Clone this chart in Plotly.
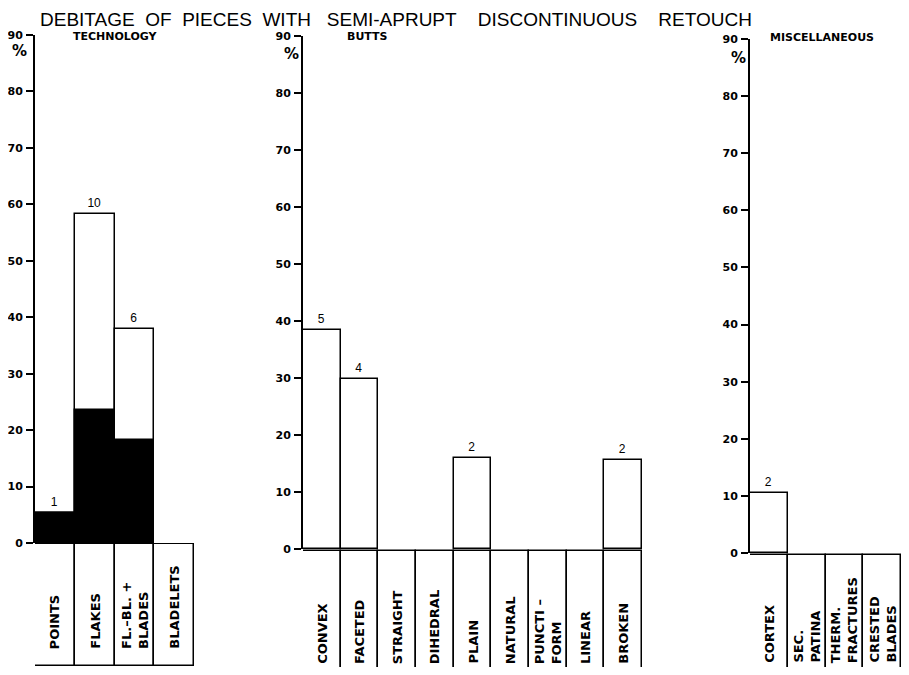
import plotly.graph_objects as go

# ---------------- data ----------------
tech_cats = ["POINTS", "FLAKES", "FL.–BL. +<br>BLADES", "BLADELETS"]
tech_total = [5.3, 58.2, 37.9, 0]
tech_black = [5.3, 23.6, 18.2, 0]
tech_counts = ["1", "10", "6", ""]

butt_cats = ["CONVEX", "FACETED", "STRAIGHT", "DIHEDRAL", "PLAIN",
             "NATURAL", "PUNCTI –<br>FORM", "LINEAR", "BROKEN"]
butt_vals = [38.4, 29.8, 0, 0, 15.9, 0, 0, 0, 15.7]
butt_counts = ["5", "4", "", "", "2", "", "", "", "2"]

misc_cats = ["CORTEX", "SEC.<br>PATINA", "THERM.<br>FRACTURES", "CRESTED<br>BLADES"]
misc_vals = [10.5, 0, 0, 0]
misc_counts = ["2", "", "", ""]

y_ticks = list(range(0, 100, 10))

title_text = ("DEBITAGE\u00a0\u00a0OF\u00a0\u00a0PIECES\u00a0\u00a0WITH\u00a0\u00a0\u00a0SEMI-APRUPT"
              "\u00a0\u00a0\u00a0\u00a0DISCONTINUOUS\u00a0\u00a0\u00a0\u00a0RETOUCH")
panel_titles = ["TECHNOLOGY", "BUTTS", "MISCELLANEOUS"]


def nz(vals):
    # empty categories are drawn without a bar (no value to show)
    return [v if v else None for v in vals]


# ---------------- layout geometry ----------------
# the page body has an 8px default margin: the figure is sized to fit inside it,
# and page-pixel positions are converted to paper fractions of the figure
PAGE_W, PAGE_H, BODY = 909, 675, 8
W, H = PAGE_W - 2 * BODY, PAGE_H - 2 * BODY
def px(x): return (x - BODY) / W
def py(y): return 1 - (y - BODY) / H

panels = [
    dict(x0=35, x1=194, ytop=35, y0=543, ybot=672, clipbot=False, labbot=651,
         ttl_x=115, ttl_y=37, pct_x=19, pct_y=51),
    dict(x0=303, x1=642, ytop=36, y0=549, ybot=675, clipbot=True, labbot=666,
         ttl_x=367, ttl_y=37, pct_x=291, pct_y=54),
    dict(x0=750, x1=902, ytop=39, y0=553, ybot=675, clipbot=True, labbot=665,
         ttl_x=822, ttl_y=38, pct_x=738, pct_y=58),
]

LINE = dict(color="black", width=1.5)
TXTFONT = dict(family="Liberation Sans", size=12, color="black")
BOLD = dict(family="DejaVu Sans", size=11, color="black", weight="bold")
CATFONT = dict(family="DejaVu Sans", size=13, color="black", weight="bold")

fig = go.Figure()

# panel 1 bars
fig.add_trace(go.Bar(x=tech_cats, y=nz(tech_total), text=tech_counts, textposition="outside",
                     textfont=TXTFONT, cliponaxis=False,
                     marker=dict(color="white", line=LINE), xaxis="x", yaxis="y",
                     hoverinfo="x+y"))
fig.add_trace(go.Bar(x=tech_cats, y=nz(tech_black),
                     marker=dict(color="black", line=LINE), xaxis="x", yaxis="y",
                     hoverinfo="x+y"))
# panel 2 bars
fig.add_trace(go.Bar(x=butt_cats, y=nz(butt_vals), text=butt_counts, textposition="outside",
                     textfont=TXTFONT, cliponaxis=False,
                     marker=dict(color="white", line=LINE), xaxis="x2", yaxis="y2",
                     hoverinfo="x+y"))
# panel 3 bars
fig.add_trace(go.Bar(x=misc_cats, y=nz(misc_vals), text=misc_counts, textposition="outside",
                     textfont=TXTFONT, cliponaxis=False,
                     marker=dict(color="white", line=LINE), xaxis="x3", yaxis="y3",
                     hoverinfo="x+y"))

# category boxes
for i, cats in enumerate([tech_cats, butt_cats, misc_cats]):
    n = i + 4
    fig.add_trace(go.Bar(x=cats, y=[1] * len(cats), marker=dict(color="white", line=LINE),
                         xaxis=f"x{n}", yaxis=f"y{n}", hoverinfo="skip"))

layout = dict(
    width=W, height=H, margin=dict(l=0, r=0, t=0, b=0, autoexpand=False),
    paper_bgcolor="white", plot_bgcolor="white",
    barmode="overlay", bargap=0, showlegend=False,
)

annotations = []
for i, p in enumerate(panels):
    a = "" if i == 0 else str(i + 1)
    b = str(i + 4)
    xdom = [px(p["x0"]), min(1.0, px(p["x1"]))]
    layout["xaxis" + a] = dict(domain=xdom, anchor="y" + a, showticklabels=False,
                               showline=False, showgrid=False, zeroline=False, ticks="",
                               fixedrange=True, automargin=False)
    layout["yaxis" + a] = dict(domain=[py(p["y0"]), py(p["ytop"])], anchor="x" + a,
                               range=[0, 90], tickvals=y_ticks, ticks="outside", ticklen=7,
                               tickwidth=1.5, tickcolor="black", showline=True, linewidth=2,
                               linecolor="black", showgrid=False, zeroline=False,
                               ticklabelposition="outside", ticklabelstandoff=1,
                               tickfont=BOLD, fixedrange=True, automargin=False)
    layout["xaxis" + b] = dict(domain=xdom, anchor="y" + b, visible=False, fixedrange=True,
                               automargin=False)
    lo = 0.1 if p["clipbot"] else -0.012
    layout["yaxis" + b] = dict(domain=[max(0.0, py(p["ybot"])), py(p["y0"])], anchor="x" + b,
                               range=[lo, 1.012], visible=False, fixedrange=True,
                               automargin=False)
    cats = [tech_cats, butt_cats, misc_cats][i]
    for c in cats:
        annotations.append(dict(x=c, y=py(p["labbot"]), xref="x" + b, yref="paper",
                                text=c, showarrow=False, textangle=-90, align="left",
                                xanchor="center", yanchor="bottom", font=CATFONT))
    annotations.append(dict(x=px(p["ttl_x"]), y=py(p["ttl_y"]), xref="paper", yref="paper",
                            text=panel_titles[i], showarrow=False, xanchor="center",
                            yanchor="middle", font=BOLD))
    annotations.append(dict(x=px(p["pct_x"]), y=py(p["pct_y"]), xref="paper", yref="paper",
                            text="%", showarrow=False, xanchor="center", yanchor="middle",
                            font=dict(family="DejaVu Sans", size=15, color="black",
                                      weight="bold")))

annotations.append(dict(x=px(396), y=1, xref="paper", yref="paper", text=title_text,
                        showarrow=False, xanchor="center", yanchor="top", borderpad=0,
                        font=dict(family="Liberation Sans", size=19, color="black")))
layout["annotations"] = annotations

fig.update_layout(**layout)
fig.write_html("out.html")
